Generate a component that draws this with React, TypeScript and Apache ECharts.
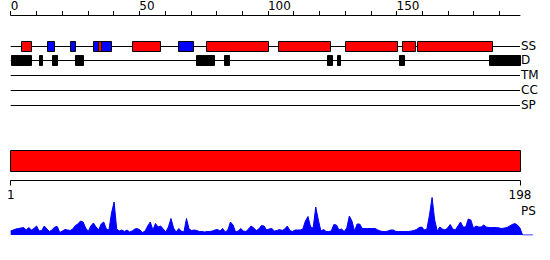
import React, { useEffect, useRef } from "react";
import * as echarts from "echarts";

// ---- data ----
const seqLength = 198;
const topTickValues = [0, 10, 20, 30, 40, 50, 60, 70, 80, 90, 100, 110, 120, 130, 140, 150, 160, 170, 180, 190];
const topLabelValues = [0, 50, 100, 150];
const bottomLabelValues = [1, 198];
const tracks = ["SS", "D", "TM", "CC", "SP"];
// secondary structure: helices (red), strands (blue) as [start, end]
const ssHelix = [[4, 8], [34, 35], [47, 58], [76, 100], [104, 124], [130, 150], [152, 157], [158, 187]];
const ssStrand = [[14, 17], [23, 25], [32, 34], [35, 39], [65, 71]];
// disorder regions
const disorder = [[0, 8], [11, 12], [16, 18], [25, 28], [72, 79], [83, 85], [123, 125], [127, 128], [151, 153], [186, 198]];
// domain bar
const domains = [[1, 198]];
// PS profile, residues 1..198
const psValues = [
  4, 5, 6, 6.5, 7, 7.5, 5, 7.5, 5, 6.5,
  9, 4, 4.5, 9, 6, 3.5, 5, 8, 8.5, 2.5,
  4, 5.5, 5, 4.5, 6, 9.5, 11, 14, 13, 7,
  3.5, 9, 12, 8, 5, 11, 13, 6, 5, 22,
  33, 6, 4, 5, 3.5, 5, 3, 4, 6, 6.5,
  5, 2.5, 4, 9, 13, 5, 11.5, 8, 9, 6,
  3, 8, 16.5, 7, 3, 6.5, 4, 3, 16.5, 6,
  4.5, 5, 4.5, 3.5, 3.5, 3, 3.5, 3.5, 4, 5,
  5.5, 4, 6.5, 3, 5, 13, 10, 3, 4, 6.5,
  4, 3.5, 6, 9, 7, 4.5, 6, 9.5, 9, 5,
  6, 6.5, 4, 4.5, 5.5, 4.5, 6, 9, 4.5, 3.5,
  5, 5, 5, 6, 14, 18.5, 8, 7, 28, 15,
  4, 5.5, 3.5, 3.5, 4, 10.5, 10, 5, 6, 3.5,
  7, 19, 14, 4, 11, 11, 6.5, 6.5, 6.5, 6.5,
  6.5, 6.5, 5, 4, 3.5, 3.5, 4, 5, 5, 3.5,
  3.5, 3.5, 3.5, 3.5, 3.5, 4, 4.5, 5.5, 7.5, 8,
  5, 6, 20, 37.5, 15, 4, 8, 6, 5, 7,
  10.5, 6, 5, 9, 13, 8, 8, 16, 15, 7,
  9, 8, 8, 10, 8, 7.5, 7.5, 7.5, 7.5, 7,
  6.5, 7, 7.5, 9, 10.5, 11.5, 10, 7,
];

const FONT = "DejaVu Sans";
const RED = "#ff0000";
const BLUE = "#0000ff";
const BLACK = "#000000";

export default function App() {
  const ref = useRef<HTMLDivElement>(null);

  useEffect(() => {
    document.body.style.margin = "0";
    const chart = echarts.init(ref.current!, null, { renderer: "svg" });

    const segData: any[] = [];
    ssHelix.forEach(([s, e]) => segData.push([s, e, 0, RED]));
    ssStrand.forEach(([s, e]) => segData.push([s, e, 0, BLUE]));
    disorder.forEach(([s, e]) => segData.push([s, e, 1, BLACK]));

    const px = (v: number) => Math.round(v) + 0.5;

    const psData: any[] = psValues.map((v, i) => [i + 1, v]);
    psData.push([199, 0], [203, 0]);

    const option: any = {
      animation: false,
      textStyle: { fontFamily: FONT },
      grid: [
        { left: 10.7, width: 509.3, top: 45, height: 60 },
        { left: 10.7, width: 509.3, top: 150, height: 20.5 },
        { left: 10.7, width: 522.2, top: 195, height: 40 },
      ],
      xAxis: [
        {
          gridIndex: 0, type: "value", min: 0, max: seqLength, position: "top", offset: 30.5,
          axisLine: { show: true, onZero: false, lineStyle: { color: BLACK, width: 1 } },
          axisTick: { show: true, length: 4, lineStyle: { color: BLACK }, customValues: topTickValues },
          axisLabel: { show: true, customValues: topLabelValues, align: "left", margin: 3, color: BLACK, fontSize: 12, fontFamily: FONT },
          splitLine: { show: false },
        },
        {
          gridIndex: 1, type: "value", min: 1, max: seqLength, position: "bottom", offset: 10,
          axisLine: { show: true, onZero: false, lineStyle: { color: BLACK, width: 1 } },
          axisTick: { show: true, length: 5, lineStyle: { color: BLACK }, customValues: bottomLabelValues },
          axisLabel: { show: true, customValues: bottomLabelValues, margin: 8, color: BLACK, fontSize: 12, fontFamily: FONT },
          splitLine: { show: false },
        },
        { gridIndex: 2, type: "value", min: 1, max: 203, show: false },
      ],
      yAxis: [
        {
          gridIndex: 0, type: "category", data: tracks, inverse: true, boundaryGap: false, position: "right",
          axisLine: { show: false }, axisTick: { show: false }, splitLine: { show: false },
          axisLabel: { interval: 0, hideOverlap: false, margin: 1, color: BLACK, fontSize: 12, fontFamily: FONT, align: "left" },
        },
        { gridIndex: 1, type: "value", min: 0, max: 1, show: false },
        { gridIndex: 2, type: "value", min: 0, max: 40, show: false },
      ],
      series: [
        {
          type: "custom", xAxisIndex: 0, yAxisIndex: 0, silent: true,
          data: tracks.map((t, i) => [0, seqLength, i]),
          renderItem: (params: any, api: any) => {
            const a = api.coord([api.value(0), api.value(2)]);
            const b = api.coord([api.value(1), api.value(2)]);
            return {
              type: "line",
              shape: { x1: a[0], y1: px(a[1]), x2: b[0], y2: px(b[1]) },
              style: { stroke: BLACK, lineWidth: 1 },
            };
          },
        },
        {
          type: "custom", xAxisIndex: 0, yAxisIndex: 0, silent: true,
          data: segData,
          renderItem: (params: any, api: any) => {
            const a = api.coord([api.value(0), api.value(2)]);
            const b = api.coord([api.value(1), api.value(2)]);
            const x0 = px(a[0]);
            const x1 = px(b[0]);
            const cy = Math.round(a[1]);
            return {
              type: "rect",
              shape: { x: x0, y: cy - 4.5, width: x1 - x0, height: 10 },
              style: { fill: segData[params.dataIndex][3], stroke: BLACK, lineWidth: 1 },
            };
          },
        },
        {
          type: "custom", xAxisIndex: 1, yAxisIndex: 1, silent: true,
          data: domains,
          renderItem: (params: any, api: any) => {
            const a = api.coord([api.value(0), 1]);
            const b = api.coord([api.value(1), 0]);
            const x0 = px(a[0]) - 1;
            const x1 = px(b[0]);
            return {
              type: "rect",
              shape: { x: x0, y: px(a[1]), width: x1 - x0, height: px(b[1]) - px(a[1]) },
              style: { fill: RED, stroke: BLACK, lineWidth: 1 },
            };
          },
        },
        {
          type: "line", xAxisIndex: 2, yAxisIndex: 2, silent: true,
          data: psData, showSymbol: false, symbol: "none",
          lineStyle: { color: BLUE, width: 1 },
          areaStyle: { color: BLUE, opacity: 1 },
          itemStyle: { color: BLUE },
        },
      ],
      graphic: [
        { type: "text", left: 521, top: 205, style: { text: "PS", fill: BLACK, font: `12px '${FONT}'` } },
      ],
    };
    chart.setOption(option);
    return () => chart.dispose();
  }, []);

  return <div ref={ref} style={{ position: "absolute", left: 0, top: 0, width: 550, height: 260 }} />;
}
